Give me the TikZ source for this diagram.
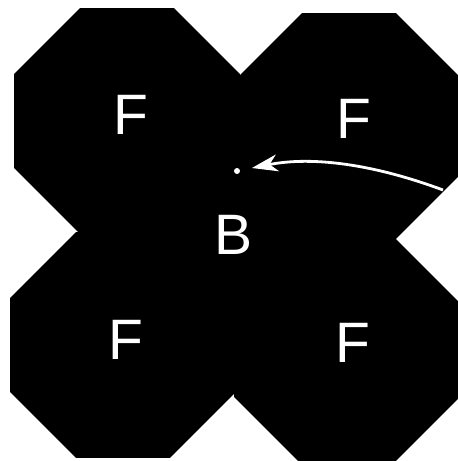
\documentclass[tikz,border=0pt]{standalone}
\usepackage{fontspec}
\setmainfont{Liberation Sans}
\usetikzlibrary{arrows.meta,shapes.geometric,calc}
\tikzset{
  oct/.style={regular polygon,regular polygon sides=8,fill=black,inner sep=0pt,outer sep=0pt,minimum size=244.6pt},
  lab/.style={text=white,font=\fontsize{57}{60}\selectfont,inner sep=0pt},
  arr/.style={-{Stealth[length=26pt,width=17pt,inset=8pt]},white,line width=2.8pt,shorten >=12pt},
}
\begin{document}
\begin{tikzpicture}[x=1pt,y=1pt]
\fill[white] (0,0) rectangle (458,461);
\useasboundingbox (0,0) rectangle (458,461);
\foreach \n/\x/\y in {tl/127/340,tr/349/335,bl/123/116,br/347/111} \node[oct] (\n) at (\x,\y) {};
\fill (tl.center) -- (tr.center) -- (br.center) -- (bl.center) -- cycle;
\foreach \n/\x/\y in {tl/131/346,tr/354/342,bl/126/121,br/353/118} \node[lab] (f\n) at (\x,\y) {F};
\node[lab] (b) at (234,226) {B};
\node[circle,fill=white,inner sep=0pt,minimum size=6pt] (pt) at (237,290) {};
\coordinate (src) at (443,271);
\draw[arr] (src) .. controls (373,297) and (312,305) .. (pt);
\end{tikzpicture}
\end{document}
